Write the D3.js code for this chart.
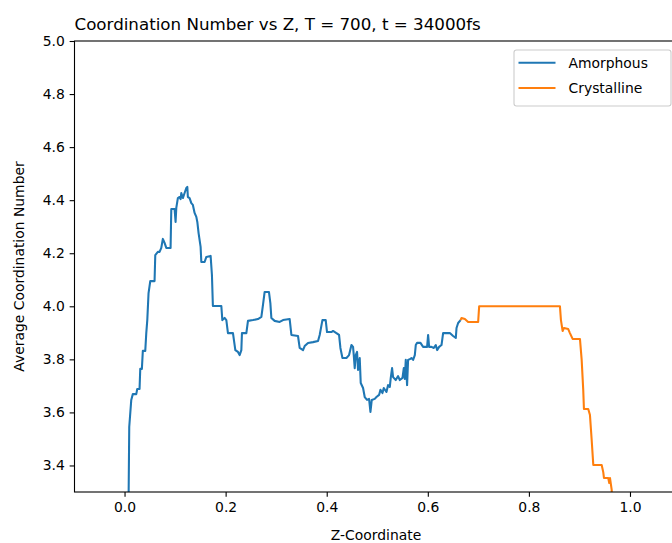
<!DOCTYPE html>
<html>
<head>
<meta charset="utf-8">
<script src="https://cdn.jsdelivr.net/npm/d3@7"></script>
<style>
  html, body { margin: 0; padding: 0; background: #fff; }
  svg { display: block; font-family: "DejaVu Sans", sans-serif; }
</style>
</head>
<body>
<div id="chart"></div>
<script>
// Average coordination number along Z for the amorphous and crystalline regions
const amorphousZ = [0.004, 0.0079, 0.0093, 0.0133, 0.0164, 0.0232, 0.0251, 0.0297, 0.0311, 0.0343, 0.0362, 0.0410, 0.0430, 0.0450, 0.0475, 0.0509, 0.0594, 0.0608, 0.0659, 0.0693, 0.0727, 0.0758, 0.0792, 0.0826, 0.0911, 0.0925, 0.0990, 0.1010, 0.1024, 0.1055, 0.1089, 0.1109, 0.1123, 0.1154, 0.1188, 0.1222, 0.1242, 0.1253, 0.1287, 0.1321, 0.1352, 0.1386, 0.1420, 0.1440, 0.1465, 0.1505, 0.1519, 0.1584, 0.1618, 0.1703, 0.1729, 0.1748, 0.1915, 0.1935, 0.1980, 0.2014, 0.2046, 0.2145, 0.2192, 0.2244, 0.2277, 0.2311, 0.2323, 0.2410, 0.2442, 0.2541, 0.2640, 0.2707, 0.2739, 0.2772, 0.2857, 0.2885, 0.2905, 0.2970, 0.3069, 0.3135, 0.3267, 0.3301, 0.3432, 0.3465, 0.3531, 0.3564, 0.3630, 0.3729, 0.3828, 0.3861, 0.3915, 0.3980, 0.4006, 0.4093, 0.4125, 0.4192, 0.4244, 0.4271, 0.4311, 0.4390, 0.4442, 0.4489, 0.4521, 0.4535, 0.4554, 0.4574, 0.4600, 0.4620, 0.4653, 0.4673, 0.4719, 0.4752, 0.4798, 0.4838, 0.4865, 0.4891, 0.4950, 0.4984, 0.5036, 0.5063, 0.5103, 0.5129, 0.5182, 0.5214, 0.5248, 0.5267, 0.5293, 0.5313, 0.5366, 0.5412, 0.5446, 0.5499, 0.5525, 0.5545, 0.5564, 0.5590, 0.5610, 0.5644, 0.5677, 0.5709, 0.5743, 0.5762, 0.5788, 0.5855, 0.5907, 0.5986, 0.6006, 0.6026, 0.6073, 0.6119, 0.6158, 0.6184, 0.6224, 0.6271, 0.6303, 0.6370, 0.6436, 0.6501, 0.6554, 0.6568, 0.6600, 0.6648];
const amorphousCN = [3.20, 3.25, 3.545, 3.647, 3.669, 3.669, 3.688, 3.688, 3.764, 3.764, 3.832, 3.832, 3.899, 3.948, 4.050, 4.095, 4.095, 4.193, 4.205, 4.205, 4.220, 4.254, 4.239, 4.220, 4.220, 4.367, 4.367, 4.318, 4.371, 4.408, 4.412, 4.404, 4.427, 4.408, 4.427, 4.446, 4.450, 4.412, 4.408, 4.389, 4.382, 4.352, 4.337, 4.318, 4.276, 4.224, 4.167, 4.167, 4.186, 4.190, 4.118, 4.001, 4.001, 3.948, 3.956, 3.948, 3.899, 3.899, 3.835, 3.828, 3.816, 3.835, 3.899, 3.899, 3.945, 3.948, 3.952, 3.960, 4.005, 4.054, 4.054, 4.012, 3.956, 3.945, 3.941, 3.948, 3.952, 3.892, 3.888, 3.843, 3.835, 3.850, 3.862, 3.865, 3.869, 3.892, 3.948, 3.948, 3.903, 3.903, 3.907, 3.899, 3.892, 3.843, 3.805, 3.805, 3.816, 3.854, 3.847, 3.816, 3.767, 3.816, 3.828, 3.760, 3.805, 3.711, 3.692, 3.658, 3.647, 3.651, 3.602, 3.647, 3.651, 3.658, 3.666, 3.685, 3.673, 3.692, 3.677, 3.703, 3.696, 3.730, 3.767, 3.733, 3.722, 3.737, 3.722, 3.730, 3.767, 3.726, 3.798, 3.703, 3.798, 3.801, 3.805, 3.798, 3.816, 3.854, 3.862, 3.862, 3.847, 3.847, 3.892, 3.847, 3.847, 3.843, 3.854, 3.835, 3.847, 3.854, 3.899, 3.899, 3.899, 3.888, 3.881, 3.918, 3.937, 3.948];

const crystallineZ = [0.6648, 0.6667, 0.6733, 0.6798, 0.6996, 0.7016, 0.8614, 0.8634, 0.8667, 0.8693, 0.8778, 0.8812, 0.8865, 0.9010, 0.9044, 0.9075, 0.9089, 0.9174, 0.9208, 0.9242, 0.9274, 0.9440, 0.9471, 0.9485, 0.9570, 0.9590, 0.9604, 0.9638, 0.9657];
const crystallineCN = [3.948, 3.956, 3.952, 3.941, 3.941, 4.0, 4.0, 3.948, 3.907, 3.918, 3.914, 3.899, 3.877, 3.877, 3.798, 3.685, 3.613, 3.613, 3.590, 3.496, 3.402, 3.402, 3.375, 3.353, 3.353, 3.334, 3.353, 3.308, 3.20];

const xTicks = [0.0, 0.2, 0.4, 0.6, 0.8, 1.0];
const yTicks = [3.4, 3.6, 3.8, 4.0, 4.2, 4.4, 4.6, 4.8, 5.0];

const seriesNames = ["Amorphous", "Crystalline"];
const seriesColors = ["#1f77b4", "#ff7f0e"];

const W = 672, H = 543;
const margin = { left: 74.5, right: 677.5, top: 41, bottom: 492 };

const svg = d3.select("#chart").append("svg")
  .attr("width", W).attr("height", H);

const x = d3.scaleLinear().domain([-0.099, 1.094]).range([margin.left, margin.right]);
const y = d3.scaleLinear().domain([3.3, 5.0]).range([margin.bottom, margin.top]);

svg.append("defs").append("clipPath").attr("id", "plot-clip")
  .append("rect")
  .attr("x", margin.left).attr("y", margin.top)
  .attr("width", margin.right - margin.left)
  .attr("height", margin.bottom - margin.top);

const line = d3.line().x(d => x(d[0])).y(d => y(d[1]));

const series = [
  d3.zip(amorphousZ, amorphousCN),
  d3.zip(crystallineZ, crystallineCN)
];

const plot = svg.append("g").attr("clip-path", "url(#plot-clip)");
series.forEach((pts, i) => {
  plot.append("path")
    .datum(pts)
    .attr("fill", "none")
    .attr("stroke", seriesColors[i])
    .attr("stroke-width", 2.08)
    .attr("stroke-linejoin", "round")
    .attr("stroke-linecap", "butt")
    .attr("d", line);
});

// Axes
const tickFmt = d3.format(".1f");
const xAxis = d3.axisBottom(x).tickValues(xTicks).tickFormat(tickFmt)
  .tickSizeInner(4.86).tickSizeOuter(0).tickPadding(4.86);
const yAxis = d3.axisLeft(y).tickValues(yTicks).tickFormat(tickFmt)
  .tickSizeInner(4.86).tickSizeOuter(0).tickPadding(4.86);

const gx = svg.append("g").attr("transform", `translate(0,${margin.bottom})`).call(xAxis);
const gy = svg.append("g").attr("transform", `translate(${margin.left},0)`).call(yAxis);
[gx, gy].forEach(g => {
  g.select(".domain").remove();
  g.selectAll(".tick line").attr("stroke", "#000").attr("stroke-width", 1.1);
  g.selectAll(".tick text").attr("fill", "#000")
    .style("font-family", "'DejaVu Sans', sans-serif").style("font-size", "13.9px");
});

// Spines
svg.append("rect")
  .attr("x", margin.left).attr("y", margin.top)
  .attr("width", margin.right - margin.left)
  .attr("height", margin.bottom - margin.top)
  .attr("fill", "none").attr("stroke", "#000").attr("stroke-width", 1.1);

// Title and axis labels
svg.append("text")
  .attr("x", margin.left).attr("y", 30)
  .attr("font-size", "16.7px").attr("fill", "#000")
  .text("Coordination Number vs Z, T = 700, t = 34000fs");

svg.append("text")
  .attr("x", (margin.left + margin.right) / 2).attr("y", 540)
  .attr("text-anchor", "middle").attr("font-size", "13.9px").attr("fill", "#000")
  .text("Z-Coordinate");

svg.append("text")
  .attr("transform", `translate(24,${(margin.top + margin.bottom) / 2}) rotate(-90)`)
  .attr("text-anchor", "middle").attr("font-size", "13.9px").attr("fill", "#000")
  .text("Average Coordination Number");

// Legend
const lg = svg.append("g");
const lgRight = 671, lgTop = 50, lgW = 157, lgH = 56;
lg.append("rect")
  .attr("x", lgRight - lgW).attr("y", lgTop)
  .attr("width", lgW).attr("height", lgH)
  .attr("rx", 2.5).attr("ry", 2.5)
  .attr("fill", "#fff").attr("fill-opacity", 0.8)
  .attr("stroke", "#cccccc").attr("stroke-width", 1.1);
seriesNames.forEach((name, i) => {
  const cy = lgTop + 12.7 + i * 25.3;
  lg.append("line")
    .attr("x1", lgRight - lgW + 4.5).attr("x2", lgRight - lgW + 41.5)
    .attr("y1", cy).attr("y2", cy)
    .attr("stroke", seriesColors[i]).attr("stroke-width", 2.08);
  lg.append("text")
    .attr("x", lgRight - lgW + 54.5).attr("y", cy + 5)
    .attr("font-size", "13.9px").attr("fill", "#000")
    .text(name);
});
</script>
</body>
</html>
